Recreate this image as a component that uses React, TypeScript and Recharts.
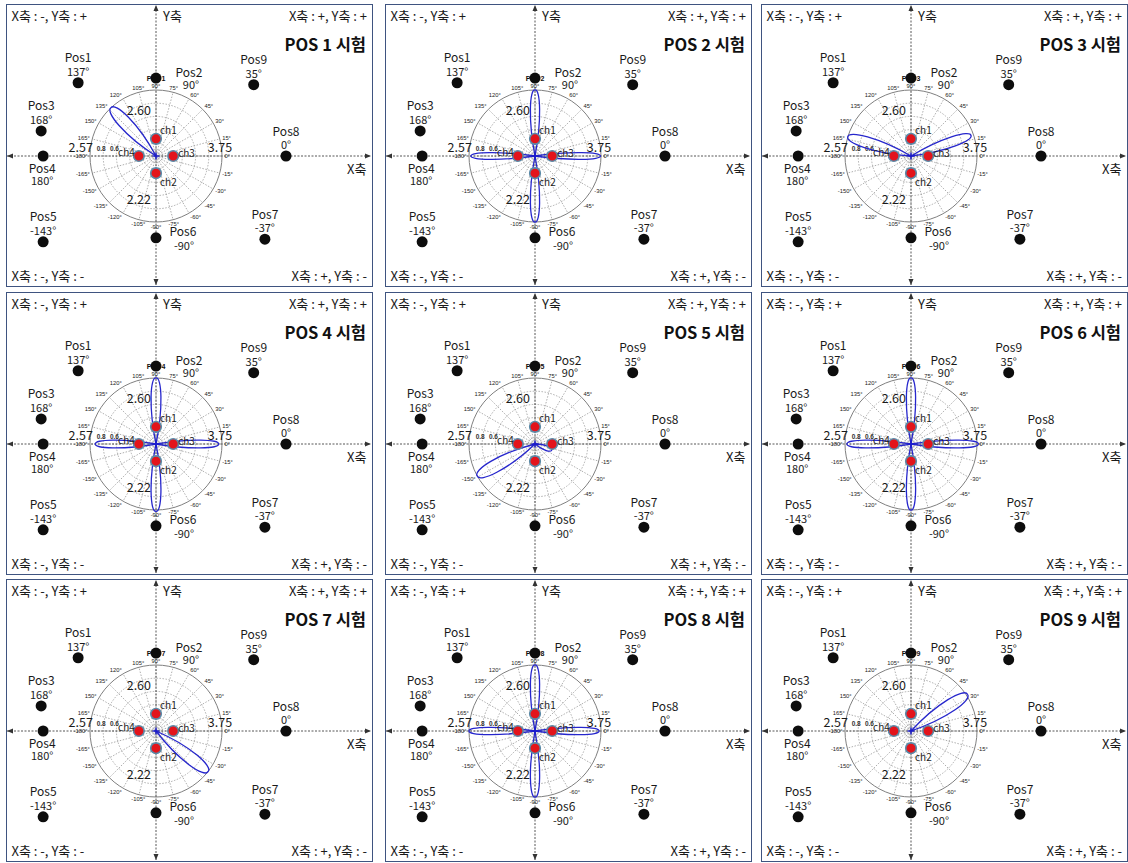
import React from 'react';
import {
  ScatterChart, Scatter, XAxis, YAxis, ReferenceLine,
  RadarChart, Radar, PolarGrid, PolarAngleAxis, PolarRadiusAxis,
} from 'recharts';

const FONT = '"Noto Sans CJK KR", "Noto Sans", sans-serif';
const SMALL_FONT = 'Arial, "Liberation Sans", sans-serif';

// one panel per test run
const tests = [1, 2, 3, 4, 5, 6, 7, 8, 9];

// target positions, x / y in units of the polar radius (centre = 0,0)
const positions = [
  { name: 'Pos1', deg: '137°', x: -1.18, y: 1.11 },
  { name: 'Pos2', deg: '90°', x: 0, y: 1.18 },
  { name: 'Pos9', deg: '35°', x: 1.48, y: 1.08 },
  { name: 'Pos3', deg: '168°', x: -1.74, y: 0.38 },
  { name: 'Pos4', deg: '180°', x: -1.71, y: 0 },
  { name: 'Pos8', deg: '0°', x: 1.97, y: 0 },
  { name: 'Pos5', deg: '-143°', x: -1.71, y: -1.3 },
  { name: 'Pos6', deg: '-90°', x: 0, y: -1.24 },
  { name: 'Pos7', deg: '-37°', x: 1.65, y: -1.26 },
];

// sensor channels
const channels = [
  { name: 'ch1', x: 0, y: 0.26 },
  { name: 'ch2', x: 0, y: -0.26 },
  { name: 'ch3', x: 0.26, y: 0 },
  { name: 'ch4', x: -0.26, y: 0 },
];

// distance labels
const distances = [
  { t: '2.60', x: -0.26, y: 0.71 },
  { t: '2.57', x: -1.14, y: 0.14 },
  { t: '3.75', x: 0.97, y: 0.14 },
  { t: '2.22', x: -0.26, y: -0.65 },
];

// polar angle ticks (deg) and radius rings
const angleTicks = [0, 15, 30, 45, 60, 75, 90, 105, 120, 135, 150, 165,
  180, 195, 210, 225, 240, 255, 270, 285, 300, 315, 330, 345];
const angleLabels = angleTicks.map((a) => (a >= 180 ? `${a - 360}°` : `${a}°`));
const radiusRings = [0.1, 0.2, 0.4, 0.6, 0.8];
const radiusLabels = [0.8, 0.6];

// beam lobes per test: angle (deg), length (radius units), width (radius units)
const lobes1 = [{ a: 133, len: 1.0, w: 0.19 }];
const lobes2 = [
  { a: 90, len: 1.0, w: 0.14 }, { a: -90, len: 1.0, w: 0.14 },
  { a: 180, len: 0.97, w: 0.1 }, { a: 0, len: 0.99, w: 0.1 },
];
const lobes3 = [{ a: 163, len: 1.0, w: 0.17 }, { a: 19, len: 0.96, w: 0.15 }];
const lobes4 = [
  { a: 90, len: 1.0, w: 0.15 }, { a: -90, len: 1.02, w: 0.15 },
  { a: 180, len: 0.92, w: 0.12 }, { a: 0, len: 0.95, w: 0.12 },
];
const lobes5 = [{ a: -151, len: 1.0, w: 0.19 }, { a: -20, len: 0.27, w: 0.07 }];
const lobes6 = [
  { a: 90, len: 1.0, w: 0.14 }, { a: -90, len: 1.0, w: 0.14 },
  { a: 180, len: 0.97, w: 0.12 }, { a: 0, len: 1.02, w: 0.12 },
];
const lobes7 = [{ a: -38, len: 1.0, w: 0.19 }];
const lobes8 = [
  { a: 90, len: 1.0, w: 0.14 }, { a: -90, len: 1.0, w: 0.14 },
  { a: 180, len: 1.0, w: 0.11 }, { a: 0, len: 0.97, w: 0.11 },
];
const lobes9 = [{ a: 33, len: 1.02, w: 0.19 }];
const lobesByTest = [lobes1, lobes2, lobes3, lobes4, lobes5, lobes6, lobes7, lobes8, lobes9];

// layout
const PANEL_W = 367;
const PANEL_H = 283;
const BORDER = 1.5;
const W = PANEL_W - 2 * BORDER;
const H = PANEL_H - 2 * BORDER;
const CX = 149;
const CY = 151;
const R = 66;
const colLeft = [6, 385, 761];
const rowTop = [4, 292, 579];

const labelOffset: Record<string, { nx: number; ny: number; ax: number; ay: number }> = {
  Pos2: { nx: 33, ny: -7, ax: 35, ay: 6 },
  Pos6: { nx: 27, ny: -7, ax: 28, ay: 7 },
  Pos4: { nx: -1, ny: 11, ax: -1, ay: 24 },
};
const chOffset: Record<string, { dx: number; dy: number; anchor: string }> = {
  ch1: { dx: 4, dy: -9, anchor: 'start' },
  ch2: { dx: 4, dy: 8, anchor: 'start' },
  ch3: { dx: 5, dy: -4, anchor: 'start' },
  ch4: { dx: -4, dy: -5, anchor: 'end' },
};

const rad = (a: number) => (a * Math.PI) / 180;
const angleData = angleTicks.map((a, i) => ({ a, label: angleLabels[i], x: Math.cos(rad(a)), y: Math.sin(rad(a)) }));
const radiusData = radiusLabels.map((v) => ({ v, x: -v, y: 0 }));
const radarData = angleLabels.map((label) => ({ label, v: 0 }));
const centre = [{ x: 0, y: 0 }];

const Arrowed = (p: any) => {
  const { x1, y1, x2, y2 } = p;
  const ang = Math.atan2(y2 - y1, x2 - x1);
  const head = (x: number, y: number, a: number) => {
    const L = 6;
    const hw = 2.5;
    const bx = x - L * Math.cos(a);
    const by = y - L * Math.sin(a);
    return (
      <path
        d={`M${x},${y} L${bx + hw * Math.sin(a)},${by - hw * Math.cos(a)} L${bx - hw * Math.sin(a)},${by + hw * Math.cos(a)} Z`}
        fill="#333"
      />
    );
  };
  return (
    <g>
      <line x1={x1} y1={y1} x2={x2} y2={y2} stroke="#444" strokeWidth={0.9} strokeDasharray="2 1.5" />
      {head(x2, y2, ang)}
      {head(x1, y1, ang + Math.PI)}
    </g>
  );
};

const makePosShape = (test: number) => (p: any) => {
  const { cx, cy, payload } = p;
  const o = labelOffset[payload.name] || { nx: 0, ny: -26, ax: 0, ay: -12 };
  return (
    <g fontFamily={FONT}>
      {payload.name === 'Pos2' && (
        <text x={cx} y={cy + 0.5} fontSize={7} fontWeight="bold" fontFamily={SMALL_FONT} textAnchor="middle" dominantBaseline="central" fill="#111">
          {`Pos ${test}`}
        </text>
      )}
      <circle cx={cx} cy={cy} r={5.5} fill="#0d0d0d" />
      <text x={cx + o.nx} y={cy + o.ny} fontSize={12} textAnchor="middle" dominantBaseline="central" fill="#1a1a1a">
        {payload.name}
      </text>
      <text x={cx + o.ax} y={cy + o.ay} fontSize={11} textAnchor="middle" dominantBaseline="central" fill="#1a1a1a">
        {payload.deg}
      </text>
    </g>
  );
};

const LobeShape = (p: any) => {
  const { cx, cy, payload } = p;
  const L = payload.len * R;
  const h = (payload.w * R) / 2 / 0.83;
  const d = `M0,0 C${0.55 * L},${1.25 * h} ${1.02 * L},${0.95 * h} ${L},0 C${1.02 * L},${-0.95 * h} ${0.55 * L},${-1.25 * h} 0,0 Z`;
  return (
    <path d={d} transform={`translate(${cx},${cy}) rotate(${-payload.a})`} fill="none" stroke="#2626cc" strokeWidth={1.3} />
  );
};

const ChShape = (p: any) => {
  const { cx, cy, payload } = p;
  const o = chOffset[payload.name];
  return (
    <g>
      <circle cx={cx} cy={cy} r={5.3} fill="#e3141b" stroke="#5a8aa8" strokeWidth={1.6} />
      <text x={cx + o.dx} y={cy + o.dy} fontSize={10} fontFamily={FONT} textAnchor={o.anchor} dominantBaseline="central" fill="#222">
        {payload.name}
      </text>
    </g>
  );
};

const CentreShape = (p: any) => {
  const { cx, cy } = p;
  return (
    <g stroke="#1a1acc" strokeWidth={1.4}>
      <line x1={cx - 3.5} y1={cy} x2={cx + 3.5} y2={cy} />
      <line x1={cx} y1={cy - 3.5} x2={cx} y2={cy + 3.5} />
    </g>
  );
};

const DistShape = (p: any) => {
  const { cx, cy, payload } = p;
  return (
    <text x={cx} y={cy} fontSize={12.5} fontFamily={FONT} textAnchor="middle" dominantBaseline="central" fill="#1a1a1a">
      {payload.t}
    </text>
  );
};

const AngleLabelShape = (p: any) => {
  const { cx, cy, payload } = p;
  const c = Math.cos(rad(payload.a));
  const s = Math.sin(rad(payload.a));
  const anchor = c > 0.3 ? 'start' : c < -0.3 ? 'end' : 'middle';
  return (
    <text x={cx + c * 2.5} y={cy - s * 4.5} textAnchor={anchor} dominantBaseline="central" fontSize={5.8} fontFamily={SMALL_FONT} fill="#222">
      {payload.label}
    </text>
  );
};

const RadiusLabelShape = (p: any) => {
  const { cx, cy, payload } = p;
  return (
    <text x={cx - 2} y={cy - 5} textAnchor="middle" fontSize={6.5} fontWeight="bold" fontFamily={SMALL_FONT} fill="#333">
      {payload.v.toFixed(1)}
    </text>
  );
};

const txt = (style: React.CSSProperties, children: React.ReactNode) => (
  <div style={{ position: 'absolute', fontFamily: FONT, fontSize: 13, lineHeight: '14px', color: '#1a1a1a', whiteSpace: 'nowrap', ...style }}>
    {children}
  </div>
);

const Panel = ({ test, left, top }: { test: number; left: number; top: number }) => {
  const lobes = lobesByTest[test - 1].map((l) => ({ ...l, x: 0, y: 0 }));
  return (
    <div
      style={{
        position: 'absolute', left, top, width: PANEL_W, height: PANEL_H,
        border: `${BORDER}px solid #3f5480`, boxSizing: 'border-box', background: '#fff', overflow: 'hidden',
      }}
    >
      <div style={{ position: 'absolute', left: CX - 90, top: CY - 90 }}>
        <RadarChart width={180} height={180} cx={90} cy={90} outerRadius={R} startAngle={0} endAngle={360} data={radarData} margin={{ top: 0, right: 0, bottom: 0, left: 0 }}>
          <PolarGrid gridType="circle" polarRadius={radiusRings.map((r) => r * R)} polarAngles={angleTicks} stroke="#9a9a9a" strokeDasharray="1.5 1.5" strokeWidth={0.8} />
          <PolarGrid gridType="circle" polarRadius={[R]} radialLines={false} stroke="#808080" strokeWidth={1} />
          <PolarAngleAxis dataKey="label" tick={false} tickLine={false} axisLine={false} />
          <PolarRadiusAxis angle={180} domain={[0, 1]} tick={false} axisLine={false} />
          <Radar dataKey="v" stroke="none" fill="none" isAnimationActive={false} />
        </RadarChart>
      </div>
      <div style={{ position: 'absolute', left: 0, top: 0 }}>
        <ScatterChart width={W} height={H} margin={{ top: 0, right: 0, bottom: 0, left: 0 }}>
          <XAxis type="number" dataKey="x" domain={[-CX / R, (W - CX) / R]} hide allowDataOverflow />
          <YAxis type="number" dataKey="y" domain={[-(H - CY) / R, CY / R]} hide allowDataOverflow />
          <ReferenceLine x={0} shape={Arrowed} />
          <ReferenceLine y={0} shape={Arrowed} />
          <Scatter data={angleData} shape={AngleLabelShape} isAnimationActive={false} />
          <Scatter data={radiusData} shape={RadiusLabelShape} isAnimationActive={false} />
          <Scatter data={positions} shape={makePosShape(test)} isAnimationActive={false} />
          <Scatter data={lobes} shape={LobeShape} isAnimationActive={false} />
          <Scatter data={channels} shape={ChShape} isAnimationActive={false} />
          <Scatter data={centre} shape={CentreShape} isAnimationActive={false} />
          <Scatter data={distances} shape={DistShape} isAnimationActive={false} />
        </ScatterChart>
      </div>
      {txt({ left: 4.5, top: 3.5 }, 'X축 : -, Y축 : +')}
      {txt({ right: 5, top: 3.5 }, 'X축 : +, Y축 : +')}
      {txt({ left: 4.5, top: 263.5 }, 'X축 : -, Y축 : -')}
      {txt({ right: 5, top: 263.5 }, 'X축 : +, Y축 : -')}
      {txt({ left: CX + 7, top: 3.5 }, 'Y축')}
      {txt({ right: 5.5, top: CY + 5.5 }, 'X축')}
      {txt({ right: 6, top: 29, fontSize: 16.5, lineHeight: '20px', fontWeight: 'bold', color: '#111' }, `POS ${test} 시험`)}
    </div>
  );
};

export default function App() {
  return (
    <div style={{ position: 'absolute', left: 0, top: 0, width: 1128, height: 863, background: '#fff' }}>
      {tests.map((t, i) => (
        <Panel key={t} test={t} left={colLeft[i % 3]} top={rowTop[Math.floor(i / 3)]} />
      ))}
    </div>
  );
}
